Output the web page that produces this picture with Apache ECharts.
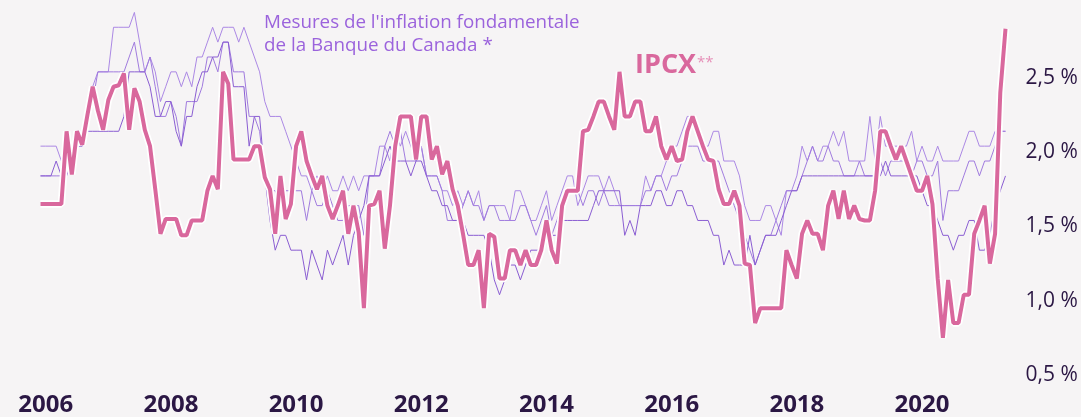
<!DOCTYPE html>
<html><head><meta charset="utf-8">
<script src="https://cdn.jsdelivr.net/npm/echarts@6/dist/echarts.min.js"></script>
<style>html,body{margin:0;padding:0;background:#f6f4f5;}#c{width:1081px;height:417px;}</style>
</head><body><div id="c"></div>
<script>
// Monthly series from Dec 2005 to May 2021 (186 points)
const startYear = 2005, startMonth = 12, nMonths = 186;
const yearTicks = ['2006','2008','2010','2012','2014','2016','2018','2020'];
const yTicks = [0.5, 1.0, 1.5, 2.0, 2.5];

const ipcx = [
1.65,1.65,1.65,1.65,1.65,2.14,1.85,2.14,2.05,2.25,2.44,2.28,
2.15,2.35,2.44,2.45,2.53,2.15,2.43,2.34,2.15,2.04,1.75,1.45,
1.55,1.55,1.55,1.44,1.44,1.54,1.54,1.54,1.74,1.84,1.75,2.54,
2.46,1.95,1.95,1.95,1.95,2.04,2.04,1.83,1.75,1.45,1.84,1.55,
1.65,2.04,2.14,1.94,1.84,1.75,1.84,1.64,1.55,1.64,1.74,1.45,
1.64,1.46,0.95,1.64,1.65,1.74,1.35,1.64,2.04,2.24,2.24,2.24,
1.95,2.24,2.24,1.95,2.04,1.85,1.94,1.75,1.64,1.45,1.24,1.24,
1.34,0.95,1.45,1.43,1.15,1.15,1.34,1.34,1.24,1.34,1.24,1.24,
1.34,1.54,1.34,1.25,1.64,1.74,1.74,1.74,2.14,2.15,2.24,2.34,
2.34,2.24,2.15,2.54,2.24,2.24,2.34,2.34,2.14,2.14,2.24,2.04,
1.95,2.04,1.94,1.95,2.14,2.24,2.14,2.04,1.95,1.94,1.75,1.65,
1.65,1.74,1.64,1.25,1.24,0.85,0.95,0.95,0.95,0.95,0.95,1.34,
1.24,1.15,1.45,1.54,1.45,1.45,1.34,1.64,1.74,1.55,1.74,1.55,
1.64,1.55,1.54,1.54,1.74,2.14,2.14,2.04,1.95,2.04,1.94,1.84,
1.74,1.74,1.84,1.65,1.15,0.75,1.14,0.85,0.85,1.04,1.04,1.45,
1.54,1.64,1.25,1.45,2.40,2.83
];
const coreA = [
2.04,2.04,2.04,2.04,1.94,1.94,2.04,2.14,2.14,2.34,2.44,2.54,
2.54,2.54,2.84,2.84,2.84,2.84,2.94,2.74,2.54,2.64,2.54,2.34,
2.44,2.54,2.54,2.44,2.54,2.44,2.64,2.64,2.74,2.84,2.74,2.84,
2.84,2.84,2.74,2.84,2.74,2.64,2.54,2.34,2.24,2.24,2.24,2.14,
2.04,1.94,1.84,1.84,1.74,1.84,1.74,1.84,1.74,1.74,1.84,1.74,
1.84,1.74,1.84,1.84,1.84,2.04,2.04,1.94,2.14,2.04,2.14,2.04,
1.94,2.04,1.84,1.84,1.84,1.74,1.74,1.64,1.74,1.64,1.74,1.64,
1.74,1.54,1.64,1.64,1.64,1.64,1.54,1.74,1.74,1.64,1.54,1.54,
1.64,1.74,1.54,1.64,1.74,1.84,1.84,1.64,1.74,1.84,1.84,1.84,
1.74,1.84,1.74,1.64,1.64,1.64,1.64,1.64,1.84,1.74,1.84,1.84,
1.94,2.04,2.04,2.14,2.24,2.24,2.14,2.04,2.04,2.14,2.14,1.94,
1.94,1.94,1.84,1.64,1.54,1.54,1.54,1.64,1.64,1.54,1.44,1.74,
1.74,1.84,2.04,1.94,2.04,1.94,2.04,2.04,2.14,2.04,2.14,1.94,
1.94,1.94,1.94,2.24,1.94,2.24,2.04,2.04,2.04,2.04,2.04,2.14,
1.94,2.04,1.94,1.94,2.04,1.94,1.94,1.94,1.94,2.04,2.14,2.14,
2.04,2.04,2.04,2.14,2.14,2.14
];
const coreB = [
1.84,1.84,1.84,1.84,1.84,1.94,2.04,2.14,2.14,2.24,2.34,2.54,
2.54,2.54,2.54,2.54,2.54,2.64,2.74,2.54,2.54,2.64,2.44,2.24,
2.24,2.34,2.24,2.04,2.34,2.34,2.34,2.44,2.64,2.64,2.54,2.74,
2.74,2.54,2.54,2.54,2.24,2.24,2.14,1.84,1.74,1.74,1.64,1.74,
1.74,1.74,1.74,1.54,1.74,1.64,1.64,1.74,1.64,1.54,1.54,1.64,
1.64,1.64,1.44,1.84,1.84,1.84,2.04,2.14,2.04,2.14,1.94,1.94,
1.94,2.04,1.84,1.84,1.84,1.74,1.54,1.54,1.54,1.64,1.74,1.64,
1.64,1.54,1.64,1.64,1.54,1.54,1.54,1.54,1.64,1.64,1.54,1.44,
1.54,1.64,1.44,1.54,1.64,1.74,1.74,1.74,1.64,1.74,1.74,1.64,
1.74,1.64,1.64,1.64,1.64,1.64,1.64,1.64,1.74,1.74,1.84,1.84,
1.74,1.84,1.84,1.94,2.04,2.04,2.04,1.94,1.94,1.94,1.94,1.84,
1.74,1.64,1.54,1.44,1.34,1.24,1.34,1.44,1.44,1.54,1.64,1.74,
1.74,1.74,1.84,1.94,2.04,1.94,1.94,2.04,1.94,1.94,1.84,1.84,
1.84,1.94,1.84,1.84,1.84,1.94,1.84,1.94,1.94,1.94,1.94,1.84,
1.94,1.94,1.84,1.84,1.94,1.54,1.74,1.74,1.74,1.84,1.94,1.94,
1.84,1.94,1.94,2.04,2.14,2.14
];
const coreC = [
1.84,1.84,1.84,1.94,1.84,1.84,1.94,2.04,2.04,2.14,2.14,2.14,
2.14,2.14,2.14,2.14,2.24,2.54,2.54,2.54,2.54,2.44,2.24,2.24,
2.34,2.34,2.14,2.04,2.24,2.24,2.44,2.54,2.54,2.64,2.64,2.74,
2.74,2.44,2.44,2.44,2.04,2.24,2.24,1.84,1.54,1.34,1.44,1.44,
1.34,1.34,1.34,1.14,1.34,1.24,1.14,1.34,1.24,1.34,1.44,1.24,
1.44,1.54,1.64,1.84,1.84,1.84,1.94,2.04,1.94,1.94,1.94,1.84,
1.94,1.94,1.84,1.74,1.74,1.64,1.64,1.54,1.54,1.54,1.44,1.44,
1.44,1.44,1.34,1.14,1.04,1.14,1.24,1.24,1.14,1.24,1.34,1.34,
1.34,1.44,1.44,1.44,1.54,1.54,1.54,1.54,1.54,1.54,1.64,1.74,
1.74,1.74,1.74,1.74,1.44,1.54,1.44,1.64,1.64,1.64,1.74,1.74,
1.64,1.64,1.74,1.74,1.64,1.64,1.54,1.54,1.54,1.44,1.44,1.24,
1.34,1.24,1.24,1.24,1.44,1.24,1.34,1.44,1.44,1.44,1.54,1.64,
1.74,1.74,1.84,1.84,1.84,1.84,1.84,1.84,1.84,1.84,1.84,1.84,
1.84,1.84,1.84,1.84,1.84,1.84,1.94,1.84,1.84,1.84,1.84,1.84,
1.84,1.74,1.64,1.64,1.54,1.44,1.44,1.34,1.44,1.44,1.54,1.54,
1.34,1.34,1.44,1.64,1.74,1.84
];

const months = [];
for (let i = 0; i < nMonths; i++) {
  const m0 = startMonth - 1 + i;
  const y = startYear + Math.floor(m0 / 12);
  const m = (m0 % 12) + 1;
  months.push(y + '-' + (m < 10 ? '0' + m : m));
}

const FONT = 'Open Sans';
const DARK = '#2b1744';
const PINK = '#d9689d';
const chart = echarts.init(document.getElementById('c'), null, {renderer: 'canvas'});
function thin(name, data, color) {
  return {name, type: 'line', data, symbol: 'none', silent: true,
    lineStyle: {width: 1, color}, z: 2};
}
chart.setOption({
  backgroundColor: '#f6f4f5',
  animation: false,
  grid: {left: 40.5, right: 75.5, top: 3.5, bottom: 37},
  xAxis: {
    type: 'category', data: months, boundaryGap: false,
    axisLine: {show: false}, axisTick: {show: false}, splitLine: {show: false},
    axisLabel: {
      interval: (idx, val) => val.slice(5) === '01' && yearTicks.indexOf(val.slice(0, 4)) >= 0,
      formatter: (val) => val.slice(0, 4),
      fontFamily: FONT, fontWeight: 'bold', fontSize: 24, color: DARK, margin: 18
    }
  },
  yAxis: {
    type: 'value', position: 'right', min: 0.5, max: 3.0, interval: 0.5,
    axisLine: {show: false}, axisTick: {show: false}, splitLine: {show: false},
    axisLabel: {
      formatter: (v) => yTicks.indexOf(v) >= 0 ? v.toFixed(1).replace('.', ',') + ' %' : '',
      fontFamily: FONT, fontSize: 21, color: DARK, margin: 20
    }
  },
  series: [
    thin('A', coreA, '#ab88e4'),
    thin('B', coreB, '#a07bde'),
    thin('C', coreC, '#8a5dd2'),
    {name: 'halo', type: 'line', data: ipcx, symbol: 'none', silent: true,
     lineStyle: {width: 7.5, color: '#ffffff'}, z: 3},
    {name: 'IPCX', type: 'line', data: ipcx, symbol: 'none', silent: true,
     lineStyle: {width: 4, color: PINK}, z: 4}
  ],
  graphic: [
    {type: 'text', left: 264, top: 11, z: 10,
     style: {text: "Mesures de l'inflation fondamentale\nde la Banque du Canada *",
       font: '18.8px "Open Sans"', fill: '#9b63dc', lineHeight: 23}},
    {type: 'text', left: 635, top: 52, z: 10,
     style: {text: 'IPCX', font: 'bold 27px "Open Sans"', fill: PINK}},
    {type: 'text', left: 697, top: 55, z: 10,
     style: {text: '**', font: '15px "Open Sans"', fill: '#e690b8'}}
  ]
});
</script></body></html>
